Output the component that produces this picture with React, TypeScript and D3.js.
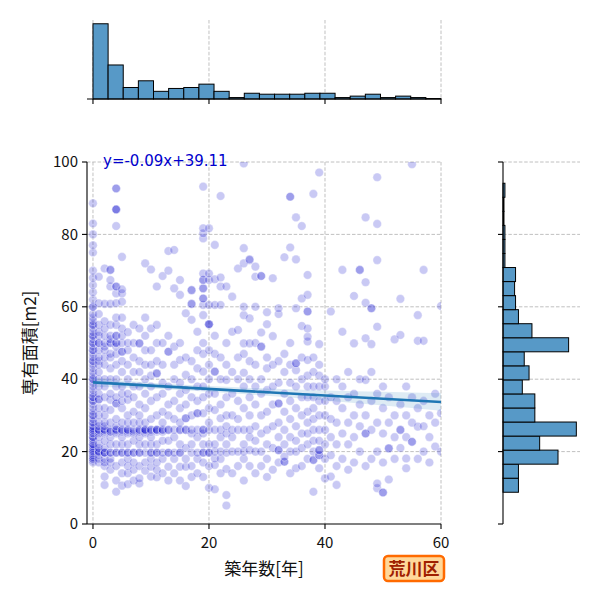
import React from 'react'
import * as d3 from 'd3'

// 築年数 (index = years) -> 専有面積 values
const areaByAge: number[][] = [
  [17,17.5,18,18,18.5,19,19.5,20,20,20.5,21,21.5,22,22,23,23.5,24,24,25,25,25.5,26,26,26.5,27,28,28,29,30,30,31,32,33,34,34,35,35,36,37,38,39,40,40,41,42,43,44,45,45,46,47,48,48,49,50,50,51,52,52,53,54,55,55,56,57,58,60,60,62,64,66,68,70,75,77,80,83,88.6],
  [17,18,19,19.7,20,20,21,22,24,25,25.5,26,26,27,28,30,32,34.4,34.4,36,38,40,42,44,45,46,48,50,50,52,53,55,58,61,68.3],
  [10.8,13.1,16,17,18,19.7,19.7,19.7,21,23,25,25.5,26,26,27,28,30,32,35,38,40,44,46,48,49,50,52,54,56,60.8,70.6],
  [15,17,18,19.7,19.7,22,24,25.5,25.5,26,28,31.5,34.3,36,40,43,46,47,50,50,51,52,55,60.8,65.6,67.4,70.2,70.2],
  [8.9,12,16,19.7,19.7,22,25,25.5,26,26,27,29,33.3,33.3,35,38,40,44,47,49,50,50,52,52,55,57,61,63.7,65.6,65.6,82.3,86.9,86.9,86.9,92.7,92.7],
  [10.6,14,17,19.7,19.7,22,24,25.5,26,26,28,32,34,36,38,42,45,47.6,47.6,50,52,54,57,61.4,63.7,64.8,73.8],
  [11,14,16,18,19.7,19.7,22,25,25.5,26,26,28,30,34.3,36,40,44,48,50,53],
  [12,15,17,19.7,19.7,23,25,25.5,26,28,31,35,38,42,46,50,55],
  [11.2,12.6,16,19.7,19.7,22,24,25.5,26,26,28,30,33,38,42,45,49.9,49.9,54],
  [14.7,17,19.7,22,25,25.5,26,26,26,28,32,36,40,44,48,52,57,72],
  [13.1,15.8,18,19.7,19.7,22,24,25.5,26,26,29,34,38,41,44,48,54,70.3],
  [12.9,15,17,19.7,19.7,22,25.5,26,26,26,30,35,41.6,41.6,45,50,55,65.6],
  [14,18,19.7,23,25.5,26,26,28,31,36,39,44,50,68.5],
  [12,15.8,19.7,19.7,23,26,26,30,33,38,47.6,47.6,52,70,75.4],
  [14,18,19.7,24,26,29,34,40,44,49,65.1,75.7],
  [12,15.8,19.7,19.7,22,26,26,28,32,36,39,45.3,50,63.3,67.4],
  [10.5,15.8,18,21,26,26,29.2,29.2,33,37,41.2,46,58.2],
  [13,16,19.7,22,25,26,30,35,40,45,56.4,60.8,60.8,64.6,64.6],
  [14,18,19.7,24,26,30.6,30.6,34,38,43,48,53.1],
  [13,17,19.7,19.7,22,25,26,26,30.6,35,38,42.1,47,50,57.7,60.5,62.3,62.3,65.1,65.1,67.4,67.4,69.2,78.9,80.3,81.7,93.2],
  [10,16,19.7,19.7,22,26,28,32,36,40,44,48,55.2,55.2,55.2,60.5,67.4,69.2,81.7],
  [9.6,16.3,18.1,20,22,26,31.5,36,42.1,42.1,47,52,60.5,67.6,77.1],
  [14,18,20,24,26,29.2,33,40,46,60.5,65.6,68.1,90.6],
  [5.1,8,15.2,19.7,22,25,27,30,35,39.8,44,50,65.6],
  [14,20,24,26,30,36,42,53.1,62.8],
  [16,20,26,29,34,40,46,53.6,70.6],
  [12,18,20,22,26,32,38,41.8,47,49.9,57.7,60,72,76.2,99.6],
  [16,20.4,24,26,30,35,40,45,49.9,56.8,72.9,73.1],
  [14,20,23,27,33,38,44,50,60,68.3,71.1],
  [16,20,25,30,36,40,49,49,52.9,68.5,68.5],
  [13,18,22,26,31,37,43,46,55.2,58.5],
  [15,21,27,33,38,44,51.9,67.9],
  [17,20.4,20.4,24,28,33.3,33.3,39,45,58,59.6],
  [17.2,17.2,18.6,22,26,31,36,42,47,73.7],
  [14,20,24,29,34,39,44,50,76.4,90.4,90.4],
  [15.4,20,23,27,32,38,42.5,44.4,44.4,59.6,73.1,84.7],
  [16,21,25,30,35,40,46,54.7,62.3,82.3],
  [18,22,25,28,31,35,38,41,45.3,50.4,51.7,54,58.7,58.7,63.3,68.8],
  [8.9,17.7,17.7,20,23,26,29,32,35,38,42,46,91.2],
  [15.4,19,19,20.4,20.4,23,26,30,34,38,41,44,49.7,97.1],
  [12.6,18,22,26,30,34,38,40],
  [13.1,19,24,29,35,58.7],
  [10.8,16,22,28,34,40],
  [18,25,32,38,53.1,70.2],
  [15,22,28,35,42],
  [17,24,30,36,49.9,63],
  [20,27,33,40,70.2,70.2],
  [16,25,25,30,39.8,51.3,61.1,66.8,84.7],
  [18,26,34,42,49.7,59.6,59.6],
  [9.9,11.2,20,28,36,54.5,72.9,82.9,95.8],
  [8.7,8.7,17,25,32,38],
  [12.3,20.9,20.9,28,35],
  [18,24,30,51],
  [21,26,26,33,52.2,62.2],
  [15.4,18.1,24,30,38],
  [22.7,22.7,28,35,99.4],
  [18,26.9,32,50.6,57.7],
  [20,27,34,50.6,70.2],
  [17,24,30],
  [21.4,28,36],
  [20,30.6,60.2],
]

// marginal histogram counts
const ageCounts = [157,71,24,38,16,22,24,31,16,3,12,10,10,10,12,12,3,6,10,3,6,3,1]
const areaCounts = [16,16,57,38,76,33,33,20,27,22,68,30,16,13,12,13,2,2,2,1,1,2]
const areaBinStart = 8.77
const areaBinWidth = 3.88

// regression fit and confidence band
const slope = -0.09
const intercept = 39.11
const ciX = [0, 10, 20, 30, 40, 50, 60]
const ciHalf = [1.2, 0.8, 0.8, 1.0, 1.4, 1.9, 2.4]

const xTicks = [0, 20, 40, 60]
const yTicks = [0, 20, 40, 60, 80, 100]
const xLabel = '築年数[年]'
const yLabel = '専有面積[m2]'
const wardName = '荒川区'

const font = '"Noto Sans CJK JP", "Noto Sans", sans-serif'
const barFill = '#5799c7'
const gridColor = '#b0b0b0'

export default function App() {
  const x = d3.scaleLinear().domain([-1.03, 60]).range([87, 441])
  const y = d3.scaleLinear().domain([0, 100]).range([524, 162])
  const topY = d3.scaleLinear().domain([0, d3.max(ageCounts)! * 1.05]).range([99, 20])
  const rightX = d3.scaleLinear().domain([0, d3.max(areaCounts)! * 1.05]).range([503, 580])

  const ageEdges = d3.range(ageCounts.length + 1).map(i => (i * 60) / ageCounts.length)
  const points = areaByAge.flatMap((ys, age) => ys.map(v => [age, v] as [number, number]))

  const band = d3.area<number>()
    .x((d, i) => x(ciX[i]))
    .y0((d, i) => y(slope * ciX[i] + intercept - ciHalf[i]))
    .y1((d, i) => y(slope * ciX[i] + intercept + ciHalf[i]))
    .curve(d3.curveMonotoneX)

  return (
    <svg width={600} height={600} style={{ position: 'absolute', left: 0, top: 0 }} fontFamily={font}>
      <defs>
        <clipPath id="main-clip">
          <rect x={87} y={162} width={354} height={362} />
        </clipPath>
      </defs>

      {/* main grid */}
      <g stroke={gridColor} strokeWidth={0.8} strokeDasharray="3.5,1.8">
        {xTicks.map(t => <line key={'gx' + t} x1={x(t)} x2={x(t)} y1={162} y2={524} />)}
        {yTicks.slice(1).map(t => <line key={'gy' + t} x1={87} x2={441} y1={y(t)} y2={y(t)} />)}
      </g>

      {/* scatter */}
      <g clipPath="url(#main-clip)">
        {points.map(([a, v], i) => (
          <circle key={i} cx={x(a)} cy={y(v)} r={4.3}
            fill="#0000cd" fillOpacity={0.21} stroke="#ffffff" strokeOpacity={0.35} strokeWidth={1} />
        ))}
        <path d={band(ciX) ?? ''} fill="#1f77b4" fillOpacity={0.15} />
        <line x1={x(0)} x2={x(60)} y1={y(intercept)} y2={y(slope * 60 + intercept)}
          stroke="#1f77b4" strokeWidth={2.6} />
      </g>

      <text x={103} y={166} fontSize={15} fill="#0000cd" fontFamily='"DejaVu Sans", sans-serif'>
        {`y=${slope}x+${intercept}`}
      </text>

      {/* main axes */}
      <g stroke="#000" strokeWidth={1.1}>
        <line x1={87} x2={87} y1={162} y2={524} />
        <line x1={87} x2={441} y1={524} y2={524} />
        {yTicks.map(t => <line key={'ty' + t} x1={82} x2={87} y1={y(t)} y2={y(t)} />)}
        {xTicks.map(t => <line key={'tx' + t} x1={x(t)} x2={x(t)} y1={524} y2={529} />)}
      </g>
      <g fontSize={15} fill="#111">
        {yTicks.map(t => (
          <text key={'ly' + t} x={78} y={y(t)} dy="0.35em" textAnchor="end">{t}</text>
        ))}
        {xTicks.map(t => (
          <text key={'lx' + t} x={x(t)} y={548} textAnchor="middle">{t}</text>
        ))}
      </g>
      <text x={264} y={575} fontSize={17} textAnchor="middle" fill="#111">{xLabel}</text>
      <text transform="translate(36,343) rotate(-90)" fontSize={17} textAnchor="middle" fill="#111">{yLabel}</text>

      {/* top marginal histogram */}
      <g stroke={gridColor} strokeWidth={0.8} strokeDasharray="3.5,1.8">
        {xTicks.map(t => <line key={'tg' + t} x1={x(t)} x2={x(t)} y1={20} y2={99} />)}
      </g>
      <g fill={barFill} stroke="#000" strokeWidth={1}>
        {ageCounts.map((c, i) => (
          <rect key={'ta' + i} x={x(ageEdges[i])} width={x(ageEdges[i + 1]) - x(ageEdges[i])}
            y={topY(c)} height={topY(0) - topY(c)} />
        ))}
      </g>
      <g stroke="#000" strokeWidth={1.1}>
        <line x1={87} x2={441} y1={99} y2={99} />
        {xTicks.map(t => <line key={'tt' + t} x1={x(t)} x2={x(t)} y1={99} y2={104} />)}
      </g>

      {/* right marginal histogram */}
      <g stroke={gridColor} strokeWidth={0.8} strokeDasharray="3.5,1.8">
        {yTicks.slice(1).map(t => <line key={'rg' + t} x1={503} x2={580} y1={y(t)} y2={y(t)} />)}
      </g>
      <g fill={barFill} stroke="#000" strokeWidth={1}>
        {areaCounts.map((c, i) => {
          const lo = areaBinStart + i * areaBinWidth
          const hi = lo + areaBinWidth
          return (
            <rect key={'ra' + i} x={rightX(0)} width={rightX(c) - rightX(0)}
              y={y(hi)} height={y(lo) - y(hi)} />
          )
        })}
      </g>
      <g stroke="#000" strokeWidth={1.1}>
        <line x1={503} x2={503} y1={162} y2={524} />
        {yTicks.map(t => <line key={'rt' + t} x1={498} x2={503} y1={y(t)} y2={y(t)} />)}
      </g>

      {/* ward badge */}
      <rect x={384} y={556} width={60} height={25} rx={4} fill="#ffd89a" stroke="#ff6a00" strokeWidth={2.5} />
      <text x={414} y={574.5} fontSize={17} fontWeight="bold" textAnchor="middle" fill="#a02000">{wardName}</text>
    </svg>
  )
}
